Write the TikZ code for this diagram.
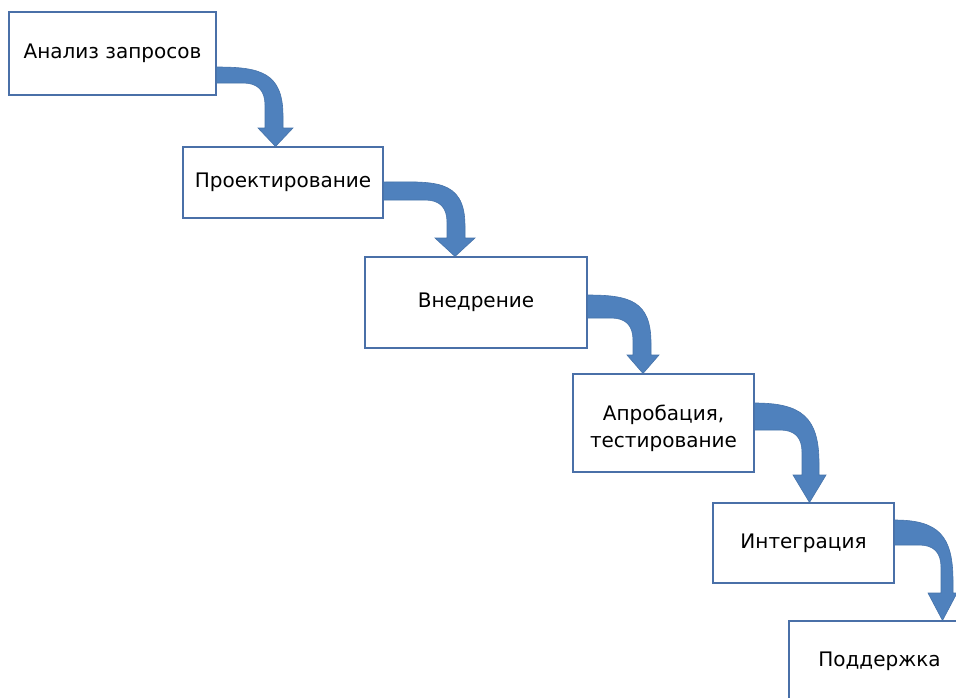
\documentclass[tikz,border=0pt]{standalone}
\usepackage{fontspec}
\setmainfont{DejaVu Sans}
\definecolor{boxline}{RGB}{74,112,168}
\definecolor{arrowfill}{RGB}{79,129,189}
\definecolor{arrowline}{RGB}{70,115,170}
\tikzset{
  stage/.style={draw=boxline, line width=1.1pt, fill=white, align=center,
    font=\fontsize{20}{27}\selectfont, inner sep=0pt},
  blockarrow/.style={fill=arrowfill, draw=arrowline, line width=0.6pt},
}
% #1 from, #2 to, #3/#4 band top/bottom, #5/#6 shaft, #7/#8 head, #9 head start
\newcommand{\bendarrow}[9]{%
  \filldraw[blockarrow] (#1.east |- 0,#3) to[out=0,in=90,looseness=1.35] (#6,#9-12) -- (#6,#9) -- (#8,#9)
    -- ({(#7+#8)/2},0 |- #2.north) -- (#7,#9) -- (#5,#9)
    -- (#5,#4+22) to[out=90,in=0,looseness=1.2] (#5-22,#4) -- (#1.east |- 0,#4) -- cycle;}
\begin{document}
\begin{tikzpicture}[x=1pt,y=-1pt]
    \clip (0,0) rectangle (956,697);
    \fill[white] (0,0) rectangle (956,697);
    \node[stage, minimum width=207pt, minimum height=83pt] (analiz) at (112.5,53.5) {Анализ запросов};
    \node[stage, minimum width=200pt, minimum height=71pt] (proekt) at (283,182.5) {Проектирование};
    \node[stage, minimum width=222pt, minimum height=91pt] (vnedr) at (476,302.5) {Внедрение};
    \node[stage, minimum width=181pt, minimum height=98pt, text height=54pt] (aprob) at (663.5,423) {Апробация,\\тестирование};
    \node[stage, minimum width=181pt, minimum height=80pt] (integr) at (803.5,543) {Интеграция};
    \node[stage, minimum width=181pt, minimum height=80pt] (podd) at (879.5,661) {Поддержка};
    % bent block arrows
    \bendarrow{analiz}{proekt}{67}{83}{265}{283}{258}{293}{128}
    \bendarrow{proekt}{vnedr}{182}{200}{447}{465}{435}{475}{238}
    \bendarrow{vnedr}{aprob}{295}{318}{633}{651}{627}{659}{355}
    \bendarrow{aprob}{integr}{403}{430}{802}{819}{793}{826}{475}
    \bendarrow{integr}{podd}{520}{545}{941}{953}{928}{957}{593}
\end{tikzpicture}
\end{document}
